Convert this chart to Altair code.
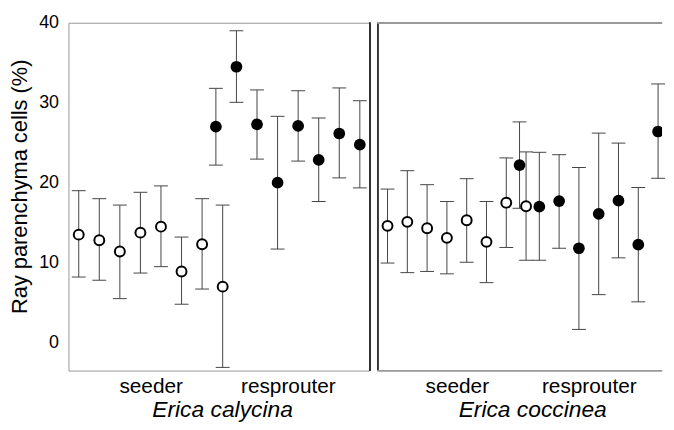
import altair as alt
import pandas as pd

# x positions of the populations (seeders, resprouters)
seeder_x = [1, 2, 3, 4, 5, 6, 7, 8]
resprouter_x = [7.67, 8.67, 9.67, 10.67, 11.67, 12.67, 13.67, 14.67]

group_labels = ["seeder", "resprouter"]
group_label_pos = [4.5, 11.17]
y_ticks = [0, 10, 20, 30, 40]

# Erica calycina
cal_seeder_mean = [13.5, 12.8, 11.4, 13.75, 14.5, 8.9, 12.3, 7.0]
cal_seeder_hi = [19.0, 18.0, 17.2, 18.8, 19.6, 13.2, 18.0, 17.2]
cal_seeder_lo = [8.2, 7.8, 5.5, 8.7, 9.5, 4.8, 6.7, -3.1]
cal_resp_mean = [27.0, 34.5, 27.3, 20.0, 27.1, 22.85, 26.15, 24.75]
cal_resp_hi = [31.8, 39.0, 31.6, 28.3, 31.5, 28.1, 31.85, 30.25]
cal_resp_lo = [22.2, 30.05, 22.95, 11.7, 22.7, 17.65, 20.6, 19.35]

# Erica coccinea
coc_seeder_mean = [14.6, 15.1, 14.3, 13.1, 15.3, 12.6, 17.5, 17.05]
coc_seeder_hi = [19.2, 21.5, 19.75, 17.65, 20.5, 17.65, 23.1, 23.85]
coc_seeder_lo = [9.95, 8.75, 8.9, 8.6, 10.05, 7.5, 11.9, 10.3]
coc_resp_mean = [22.2, 17.0, 17.7, 11.8, 16.1, 17.75, 12.25, 26.4]
coc_resp_hi = [27.6, 23.8, 23.5, 21.9, 26.2, 24.95, 19.4, 32.35]
coc_resp_lo = [16.8, 10.3, 11.8, 1.65, 6.0, 10.6, 5.1, 20.55]

X_MIN = 0.5
X_MAX_LEFT = 15.15
X_MAX_RIGHT = 14.87
Y_MIN, Y_MAX = -3.5, 40
FONT = "Liberation Sans"
W_LEFT, W_RIGHT, H = 304, 287, 351


def make_df(sm, shi, slo, rm, rhi, rlo):
    a = pd.DataFrame({"x": seeder_x, "mean": sm, "hi": shi, "lo": slo, "group": "seeder"})
    b = pd.DataFrame({"x": resprouter_x, "mean": rm, "hi": rhi, "lo": rlo, "group": "resprouter"})
    return pd.concat([a, b], ignore_index=True)


def panel(df, title, left):
    xscale = alt.Scale(domain=[X_MIN, X_MAX_LEFT if left else X_MAX_RIGHT], nice=False, zero=False)
    yscale = alt.Scale(domain=[Y_MIN, Y_MAX], nice=False, zero=False)
    xaxis = alt.Axis(
        values=group_label_pos,
        labelExpr=f"datum.value < 8 ? '{group_labels[0]}' : '{group_labels[1]}'",
        ticks=False, domain=False, grid=False,
        labelFontSize=21, labelFont=FONT, labelColor="black", labelPadding=5,
        labelOverlap=False, labelFlush=False,
        title=title, titleFont=FONT, titleFontSize=23, titleFontStyle="italic",
        titleFontWeight="normal", titleColor="black", titlePadding=2,
        titleX=155 if left else 156,
    )
    if left:
        yaxis = alt.Axis(
            values=y_ticks, ticks=False, domain=False, grid=False,
            labelFontSize=18, labelFont=FONT, labelColor="black", labelPadding=10,
            title="Ray parenchyma cells (%)", titleFont=FONT, titleFontSize=22,
            titleFontWeight="normal", titleColor="black", titlePadding=7, titleY=165,
        )
    else:
        yaxis = None

    base = alt.Chart(df)
    x_enc = alt.X("x:Q", scale=xscale, axis=xaxis)

    bars = base.mark_rule(color="#444", strokeWidth=1).encode(
        x=x_enc,
        y=alt.Y("lo:Q", scale=yscale, axis=yaxis),
        y2="hi:Q",
    )
    cap_lo = base.mark_tick(orient="horizontal", size=14, thickness=1, color="#444", opacity=1).encode(
        x=x_enc, y=alt.Y("lo:Q", scale=yscale, axis=yaxis)
    )
    cap_hi = base.mark_tick(orient="horizontal", size=14, thickness=1, color="#444", opacity=1).encode(
        x=x_enc, y=alt.Y("hi:Q", scale=yscale, axis=yaxis)
    )
    open_pts = base.transform_filter("datum.group == 'seeder'").mark_point(
        shape="circle", filled=True, fill="white", stroke="black", strokeWidth=2, size=100, opacity=1
    ).encode(x=x_enc, y=alt.Y("mean:Q", scale=yscale, axis=yaxis))
    filled_pts = base.transform_filter("datum.group == 'resprouter'").mark_circle(
        color="black", size=140, opacity=1, clip=True
    ).encode(x=x_enc, y=alt.Y("mean:Q", scale=yscale, axis=yaxis))

    layers = [bars, cap_lo, cap_hi, open_pts, filled_pts]
    if left:
        layers.append(
            base.mark_rule(color="#333", strokeWidth=1).encode(x=alt.datum(X_MAX_LEFT, scale=xscale))
        )
        ch = alt.layer(*layers).properties(width=W_LEFT, height=H)
    else:
        layers.append(
            base.mark_rule(color="#333", strokeWidth=1).encode(x=alt.datum(X_MIN, scale=xscale))
        )
        layers.append(
            base.mark_rule(color="#999", strokeWidth=1).encode(y=alt.datum(Y_MAX, scale=yscale))
        )
        layers.append(
            base.mark_rule(color="#999", strokeWidth=1).encode(y=alt.datum(Y_MIN, scale=yscale))
        )
        ch = alt.layer(*layers).properties(
            width=W_RIGHT, height=H, view=alt.ViewBackground(stroke="transparent")
        )
    return ch


cal = make_df(cal_seeder_mean, cal_seeder_hi, cal_seeder_lo, cal_resp_mean, cal_resp_hi, cal_resp_lo)
coc = make_df(coc_seeder_mean, coc_seeder_hi, coc_seeder_lo, coc_resp_mean, coc_resp_hi, coc_resp_lo)

chart = alt.hconcat(
    panel(cal, "Erica calycina", True),
    panel(coc, "Erica coccinea", False),
    spacing=6,
).properties(
    padding={"left": 0, "top": 3, "right": 0, "bottom": 0},
    background="white",
).configure_view(stroke="#999", strokeWidth=1)

chart.save("out.html", embed_options={"renderer": "svg", "actions": False})
